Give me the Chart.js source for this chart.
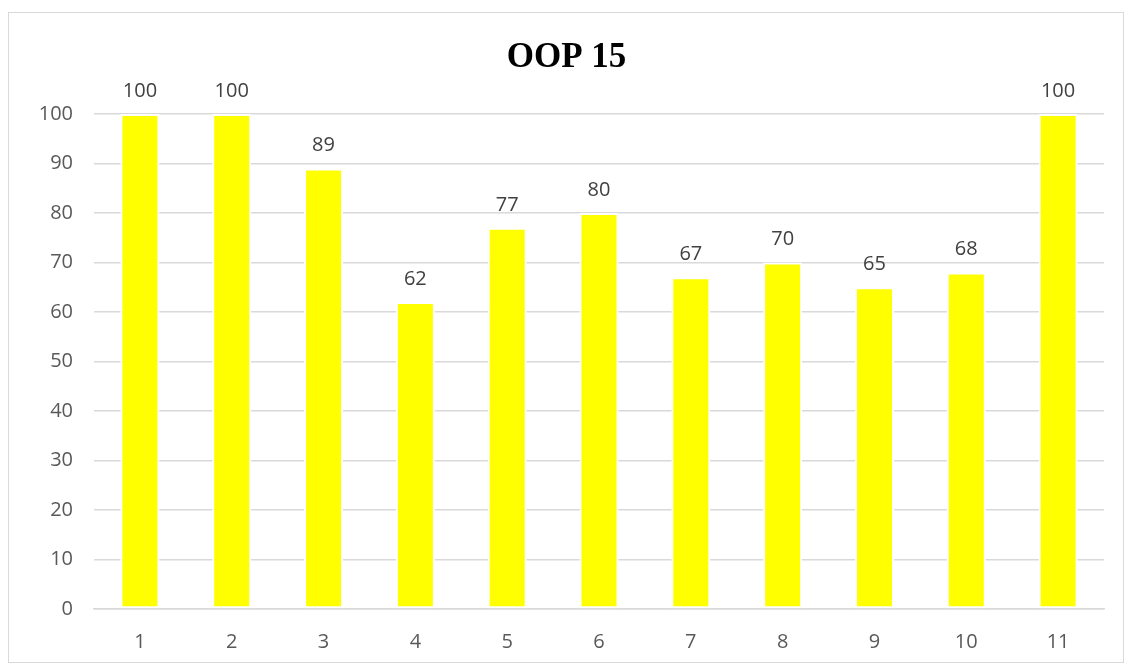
<!DOCTYPE html>
<html>
<head>
<meta charset="utf-8">
<script src="https://cdn.jsdelivr.net/npm/chart.js@4.4.1/dist/chart.umd.min.js"></script>
<style>
  body { margin: 0; background: #fff; }
  #frame {
    position: absolute; left: 8px; top: 12px;
    width: 1114px; height: 649px;
    border: 1px solid #d9d9d9;
  }
</style>
</head>
<body>
<div id="frame"><canvas id="chart"></canvas></div>
<script>
// данные
const categories = ['1', '2', '3', '4', '5', '6', '7', '8', '9', '10', '11'];
const values = [100, 100, 89, 62, 77, 80, 67, 70, 65, 68, 100];
const titleText = 'OOP 15';

// подписи значений над столбцами
const valueLabels = {
  id: 'valueLabels',
  afterDatasetsDraw(chart) {
    const ctx = chart.ctx;
    const meta = chart.getDatasetMeta(0);
    ctx.save();
    ctx.font = '20px "Open Sans", sans-serif';
    ctx.fillStyle = '#404040';
    ctx.textAlign = 'center';
    ctx.textBaseline = 'middle';
    meta.data.forEach((bar, i) => {
      ctx.fillText(values[i], bar.x, bar.y - 23);
    });
    ctx.restore();
  }
};

const ctx = document.getElementById('chart').getContext('2d');
new Chart(ctx, {
  type: 'bar',
  data: {
    labels: categories,
    datasets: [{
      data: values,
      backgroundColor: '#ffff00',
      borderColor: '#ffffff',
      borderWidth: 2,
      borderSkipped: false,
      barPercentage: 0.85,
      categoryPercentage: 0.5
    }]
  },
  options: {
    responsive: true,
    maintainAspectRatio: false,
    animation: false,
    layout: { padding: { top: 0, right: 19, bottom: 0, left: 20 } },
    plugins: {
      legend: { display: false },
      tooltip: { enabled: false },
      title: {
        display: true,
        text: titleText,
        color: '#000',
        font: { family: '"Liberation Serif", serif', size: 35, weight: 'bold' },
        padding: { top: 24, bottom: 35 }
      }
    },
    scales: {
      y: {
        min: 0,
        max: 100,
        afterFit(scale) { scale.width = 65; },
        ticks: {
          stepSize: 10,
          color: '#595959',
          font: { family: '"Open Sans", sans-serif', size: 20 },
          padding: 21
        },
        grid: { color: '#d9d9d9', lineWidth: 1.5, drawTicks: false },
        border: { display: false }
      },
      x: {
        afterFit(scale) { scale.height = 53; },
        ticks: {
          color: '#595959',
          font: { family: '"Open Sans", sans-serif', size: 20 },
          padding: 21
        },
        grid: { display: false, drawTicks: false },
        border: { color: '#d9d9d9', width: 1.5 }
      }
    }
  },
  plugins: [valueLabels]
});
</script>
</body>
</html>
